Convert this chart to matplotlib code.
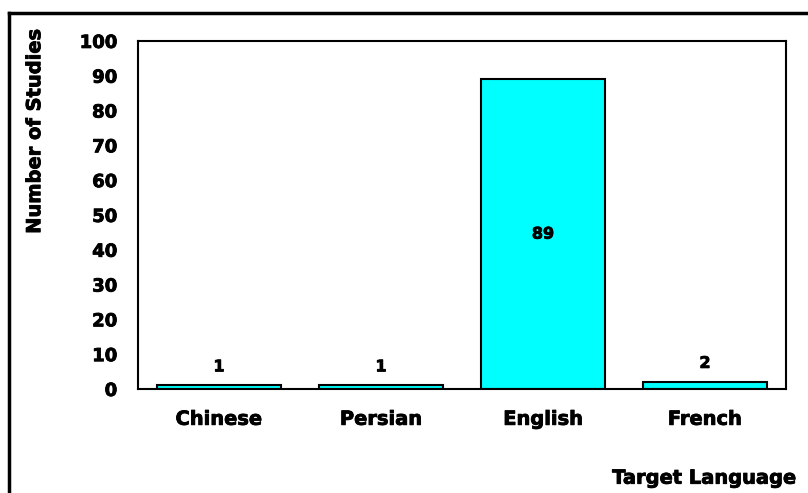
import matplotlib.pyplot as plt
import matplotlib.patheffects as pe
from matplotlib.lines import Line2D

languages = ['Chinese', 'Persian', 'English', 'French']
studies = [1, 1, 89, 2]
yticks = [0, 10, 20, 30, 40, 50, 60, 70, 80, 90, 100]

plt.rcParams['font.family'] = 'DejaVu Sans'
plt.rcParams['font.weight'] = 'bold'

# slight stroke to get closer to the heavy original font
heavy = [pe.withStroke(linewidth=0.6, foreground='black')]

fig = plt.figure(figsize=(8.08, 4.93), dpi=100)
ax = fig.add_axes([0.1708, 0.211, 0.802, 0.706])

x = range(len(languages))
bars = ax.bar(x, studies, width=0.77, color='#00FFFF', edgecolor='black', linewidth=1.5)

# value labels: inside the tall bar, above the short ones
for i, v in enumerate(studies):
    if v > 20:
        ax.text(i, v / 2, str(v), ha='center', va='center', fontsize=11.5,
                fontweight='bold', path_effects=heavy)
    else:
        ax.annotate(str(v), (i, v), xytext=(0, 8), textcoords='offset points',
                    ha='center', va='bottom', fontsize=11.5, fontweight='bold',
                    path_effects=heavy)

ax.set_xlim(-0.5, len(languages) - 0.5)
ax.set_ylim(0, 100)
ax.set_yticks(yticks)
ax.set_xticks(list(x))
ax.set_xticklabels(languages, fontsize=14, fontweight='bold')
ax.tick_params(axis='y', length=0, pad=15, labelsize=13)
ax.tick_params(axis='x', length=0, pad=15)
for lbl in ax.get_xticklabels() + ax.get_yticklabels():
    lbl.set_path_effects(heavy)
for s in ax.spines.values():
    s.set_linewidth(1.5)
    s.set_color('black')

fig.text(0.043, 0.734, 'Number of Studies', rotation=90, ha='center', va='center',
         fontsize=14, fontweight='bold', path_effects=heavy)
fig.text(0.986, 0.03, 'Target Language', ha='right', va='center',
         fontsize=14, fontweight='bold', path_effects=heavy)

# outer frame
fig.add_artist(Line2D([0.0111, 1.0], [0.9736, 0.9736], color='black', lw=2.5,
                      transform=fig.transFigure))
fig.add_artist(Line2D([0.0111, 0.0111], [0.0, 0.9736], color='black', lw=2.5,
                      transform=fig.transFigure))

fig.savefig('out.png', dpi=100)
